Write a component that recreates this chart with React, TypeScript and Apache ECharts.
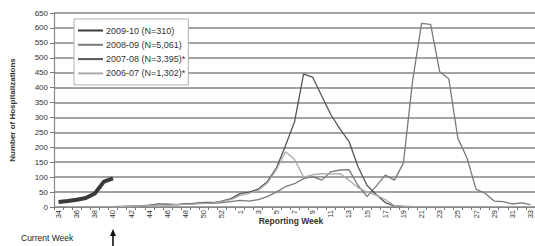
import { useEffect, useRef } from 'react';
import * as echarts from 'echarts';

const weeks = [
  '34', '35', '36', '37', '38', '39', '40', '41', '42', '43', '44', '45', '46', '47', '48', '49', '50', '51', '52', '53',
  '1', '2', '3', '4', '5', '6', '7', '8', '9', '10', '11', '12', '13', '14', '15', '16', '17', '18', '19', '20',
  '21', '22', '23', '24', '25', '26', '27', '28', '29', '30', '31', '32', '33',
];

const seriesNames = ['2009-10 (N=310)', '2008-09 (N=5,061)', '2007-08 (N=3,395)*', '2006-07 (N=1,302)*'];

const s2009_10 = [17, 20, 24, 30, 45, 85, 96];

const s2008_09 = [
  null, null, null, null, null, null,
  0, 1, 2, 3, 5, 8, 10, 8, 10, 12, 14, 12, 15, 18,
  22, 20, 25, 35, 50, 68, 78, 95, 102, 90, 118, 124, 125, 72, 35, 70, 107, 90, 147, 420,
  615, 612, 453, 430, 230, 165, 60, 46, 20, 18, 10, 14, 8,
];

const s2007_08 = [
  null, null, null, null, null, null,
  1, 2, 3, 4, 6, 10, 8, 8, 10, 12, 15, 15, 20, 28,
  45, 50, 60, 85, 130, 205, 285, 445, 435, 372, 310, 262, 220, 135, 72, 42, 15, 4, 2,
];

const s2006_07 = [
  null, null, null, null, null, null,
  0, 1, 2, 3, 5, 7, 6, 8, 9, 10, 12, 14, 18, 25,
  38, 46, 56, 80, 125, 185, 160, 100, 108, 112, 110, 112, 90, 65, 50, 40, 25, 4, 3, 2,
];

const seriesColors = ['#3a3a3a', '#7a7a7a', '#555555', '#aaaaaa'];
const seriesWidths = [4, 1.3, 1.3, 1.3];

const yTitle = 'Number of Hospitalizations';
const xTitle = 'Reporting Week';
const currentWeekLabel = 'Current Week';
const currentWeek = '40';

const FONT = '"Liberation Sans", Arial, sans-serif';

export default function App() {
  const ref = useRef<HTMLDivElement>(null);

  useEffect(() => {
    if (!ref.current) return;
    const chart = echarts.init(ref.current, null, { renderer: 'svg' });
    const data = [s2009_10, s2008_09, s2007_08, s2006_07];
    chart.setOption({
      animation: false,
      backgroundColor: '#ffffff',
      textStyle: { fontFamily: FONT },
      grid: { left: 48, right: 0, top: 13, bottom: 39, containLabel: false },
      legend: {
        orient: 'vertical',
        left: 74,
        top: 19,
        backgroundColor: '#ffffff',
        borderColor: '#b0b0b0',
        borderWidth: 1,
        padding: [7, 3, 7, 3],
        itemWidth: 25,
        itemHeight: 9,
        itemGap: 5.3,
        itemStyle: { opacity: 0 },
        textStyle: { fontSize: 9, color: '#333', fontFamily: FONT, padding: [0, 0, 0, -2] },
        data: seriesNames.map((n) => ({ name: n })),
      },
      xAxis: {
        type: 'category',
        data: weeks,
        boundaryGap: true,
        axisLine: { lineStyle: { color: '#888', width: 1.2 } },
        axisTick: { show: true, interval: 0, length: 3, lineStyle: { color: '#777' } },
        axisLabel: { interval: 1, rotate: 90, fontSize: 7.5, color: '#333', margin: 3, fontFamily: FONT },
        splitLine: { show: false },
      },
      yAxis: {
        type: 'value',
        min: 0,
        max: 650,
        interval: 50,
        name: yTitle,
        nameLocation: 'middle',
        nameGap: 38,
        nameRotate: 90,
        nameTextStyle: { fontSize: 8, fontWeight: 'bold', color: '#333', fontFamily: FONT },
        axisLine: { show: true, lineStyle: { color: '#888', width: 1.2 } },
        axisTick: { show: true, length: 4, lineStyle: { color: '#777' } },
        axisLabel: { fontSize: 8, color: '#333', margin: 6, fontFamily: FONT },
        splitLine: { show: true, lineStyle: { color: '#858585', width: 1.7 } },
      },
      series: seriesNames.map((name, i) => ({
        name,
        type: 'line',
        data: data[i],
        symbol: 'none',
        showSymbol: false,
        connectNulls: false,
        z: i === 0 ? 5 : 3,
        lineStyle: { color: seriesColors[i], width: seriesWidths[i] },
        itemStyle: { color: seriesColors[i] },
      })),
    });

    const ax = chart.convertToPixel({ xAxisIndex: 0 }, currentWeek) as number;
    chart.setOption({
      graphic: [
        {
          type: 'text',
          x: 291,
          y: 221,
          style: {
            text: xTitle,
            fontSize: 8.5,
            fontWeight: 'bold',
            fill: '#333',
            fontFamily: FONT,
            align: 'center',
            verticalAlign: 'middle',
          },
        },
        {
          type: 'text',
          left: 21,
          top: 233,
          style: { text: currentWeekLabel, fontSize: 8.5, fill: '#222', fontFamily: FONT },
        },
        {
          type: 'line',
          shape: { x1: ax, y1: 234, x2: ax, y2: 246 },
          style: { stroke: '#111', lineWidth: 1.6 },
        },
        {
          type: 'polygon',
          shape: { points: [[ax, 229], [ax - 3, 236], [ax + 3, 236]] },
          style: { fill: '#111' },
        },
      ],
    });

    return () => chart.dispose();
  }, []);

  return (
    <div
      ref={ref}
      style={{ position: 'fixed', left: 0, top: 0, width: 535, height: 246, background: '#fff' }}
    />
  );
}
